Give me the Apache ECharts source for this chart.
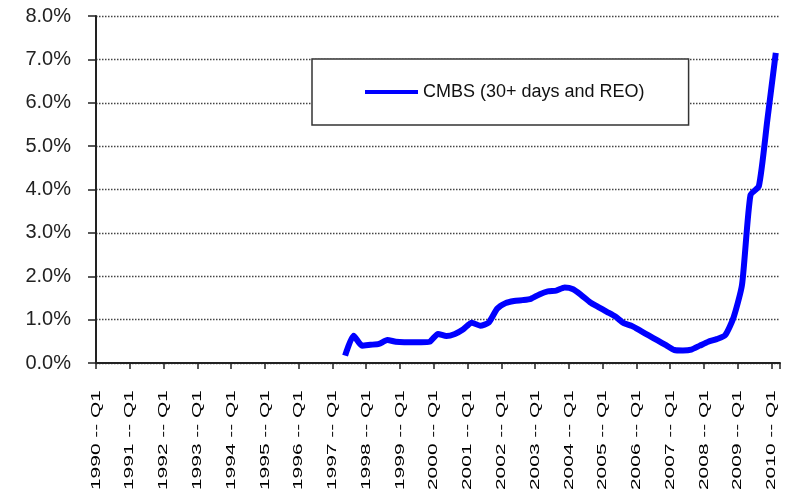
<!DOCTYPE html>
<html>
<head>
<meta charset="utf-8">
<script src="https://cdn.jsdelivr.net/npm/echarts@6/dist/echarts.min.js"></script>
<style>html,body{margin:0;padding:0;background:#fff}#c{width:794px;height:492px}</style>
</head>
<body>
<div id="c"></div>
<script>
// ---- data ----
const years = [1990,1991,1992,1993,1994,1995,1996,1997,1998,1999,2000,2001,2002,2003,2004,2005,2006,2007,2008,2009,2010];
const quarters = ['Q1','Q2','Q3','Q4'];
const lastCategory = '2010 -- Q1';
const seriesName = 'CMBS (30+ days and REO)';
const seriesStart = '1997 -- Q2';
// delinquency rate, % (1997 Q2 .. 2010 Q1)
const cmbsValues = [
  0.17, 0.63, 0.40,
  0.42, 0.44, 0.53, 0.49,
  0.48, 0.48, 0.48, 0.49,
  0.67, 0.62, 0.67, 0.78,
  0.93, 0.86, 0.93, 1.25,
  1.38, 1.43, 1.45, 1.48,
  1.58, 1.65, 1.67, 1.74,
  1.70, 1.56, 1.40, 1.29,
  1.18, 1.07, 0.92, 0.85,
  0.74, 0.63, 0.52, 0.41,
  0.30, 0.29, 0.31, 0.40,
  0.49, 0.55, 0.64, 1.05,
  1.80, 3.87, 4.08, 5.60,
  7.15
];
const tickLabels = years.map(y => y + ' -- Q1');

// ---- build ----
const categories = [];
for (const y of years) for (const q of quarters) categories.push(y + ' -- ' + q);
categories.length = categories.indexOf(lastCategory) + 1;
const startIdx = categories.indexOf(seriesStart);
const lineData = categories.map((c, i) => (i < startIdx ? null : cmbsValues[i - startIdx]));
const labelData = tickLabels.map(t => [categories.indexOf(t), 0]);

const chart = echarts.init(document.getElementById('c'));
chart.setOption({
  animation: false,
  backgroundColor: '#fff',
  grid: { left: 96, right: 14, top: 16, bottom: 129, containLabel: false },
  legend: {
    data: [seriesName],
    left: 312, top: 59,
    icon: 'rect', itemWidth: 53, itemHeight: 4,
    padding: [24, 44, 24, 53],
    borderColor: '#333', borderWidth: 1.5, backgroundColor: '#fff',
    textStyle: { fontSize: 18, color: '#111', fontFamily: '"Liberation Sans", Arial, sans-serif', lineHeight: 18 }
  },
  xAxis: {
    type: 'category',
    data: categories,
    boundaryGap: true,
    axisLine: { show: true, lineStyle: { color: '#222', width: 2 } },
    axisTick: { show: true, interval: i => i % 4 === 0, length: 6, alignWithLabel: false, lineStyle: { color: '#222', width: 1.5 } },
    axisLabel: { show: false },
    splitLine: { show: false }
  },
  yAxis: {
    type: 'value',
    min: 0, max: 8, interval: 1,
    axisLine: { show: true, lineStyle: { color: '#222', width: 2 } },
    axisTick: { show: true, length: 8, lineStyle: { color: '#222', width: 1.5 } },
    axisLabel: {
      formatter: v => v.toFixed(1) + '%',
      fontSize: 20, color: '#222', margin: 25,
      fontFamily: '"Liberation Sans", Arial, sans-serif'
    },
    splitLine: { show: true, lineStyle: { color: '#444', width: 1.3, type: [1.5, 1.5] } }
  },
  series: [
    {
      name: seriesName,
      type: 'line',
      data: lineData,
      symbol: 'none',
      smooth: 0.2,
      lineStyle: { color: '#0000FF', width: 6 },
      itemStyle: { color: '#0000FF' },
      z: 3
    },
    {
      type: 'custom',
      silent: true,
      clip: false,
      data: labelData,
      z: 5,
      renderItem: function (params, api) {
        const idx = api.value(0);
        const p = api.coord([idx, 0]);
        const bw = api.size([1, 0])[0];
        return {
          type: 'text',
          x: p[0] - bw / 2,
          y: p[1] + 27,
          rotation: Math.PI / 2,
          scaleX: 1.55,
          style: {
            text: tickLabels[params.dataIndex],
            fontSize: 13.5,
            fontFamily: '"Liberation Sans", Arial, sans-serif',
            fill: '#000',
            align: 'right', verticalAlign: 'middle',
            textAlign: 'right', textVerticalAlign: 'middle'
          }
        };
      }
    }
  ]
});
</script>
</body>
</html>
